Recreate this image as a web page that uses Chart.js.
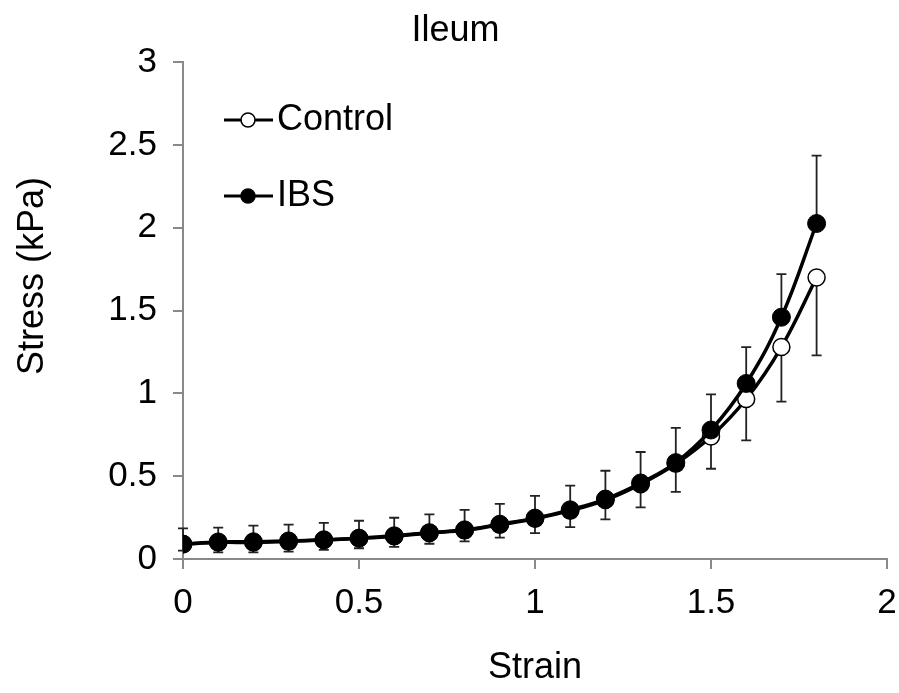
<!DOCTYPE html>
<html>
<head>
<meta charset="utf-8">
<script src="https://cdn.jsdelivr.net/npm/chart.js@4.4.1/dist/chart.umd.min.js"></script>
<style>
html,body{margin:0;padding:0;background:#fff;}
#wrap{width:899px;height:693px;}
</style>
</head>
<body>
<div id="wrap"><canvas id="c" width="899" height="693"></canvas></div>
<script>
const strain = [0, 0.1, 0.2, 0.3, 0.4, 0.5, 0.6, 0.7, 0.8, 0.9, 1.0, 1.1, 1.2, 1.3, 1.4, 1.5, 1.6, 1.7, 1.8];
const controlStress = [0.09, 0.10, 0.10, 0.105, 0.115, 0.125, 0.138, 0.157, 0.173, 0.207, 0.243, 0.292, 0.356, 0.452, 0.575, 0.74, 0.966, 1.28, 1.70];
const ibsStress = [0.09, 0.103, 0.104, 0.109, 0.116, 0.126, 0.14, 0.159, 0.176, 0.21, 0.247, 0.297, 0.362, 0.459, 0.582, 0.779, 1.06, 1.46, 2.026];
const ibsErrPlus = [0.095, 0.087, 0.097, 0.098, 0.102, 0.105, 0.109, 0.111, 0.121, 0.123, 0.134, 0.146, 0.171, 0.187, 0.21, 0.215, 0.22, 0.26, 0.41];
const controlErrMinus = [0.04, 0.06, 0.06, 0.06, 0.06, 0.06, 0.065, 0.065, 0.066, 0.078, 0.087, 0.10, 0.117, 0.14, 0.17, 0.195, 0.25, 0.33, 0.47];
const xTicks = [0, 0.5, 1, 1.5, 2];
const yTicks = [0, 0.5, 1, 1.5, 2, 2.5, 3];
const yTitle = 'Stress (kPa)';

const FONT = '"Liberation Sans", Arial, sans-serif';

const errorBars = {
  id: 'errorBars',
  beforeDatasetsDraw(chart) {
    const ctx = chart.ctx, xs = chart.scales.x, ys = chart.scales.y;
    ctx.save();
    ctx.strokeStyle = '#222';
    ctx.lineWidth = 1.8;
    const cap = 5;
    const bar = (x, y0, y1) => {
      const px = xs.getPixelForValue(x);
      const p0 = ys.getPixelForValue(y0), p1 = ys.getPixelForValue(y1);
      ctx.beginPath();
      ctx.moveTo(px, p0); ctx.lineTo(px, p1);
      ctx.moveTo(px - cap, p1); ctx.lineTo(px + cap, p1);
      ctx.stroke();
    };
    strain.forEach((s, i) => {
      bar(s, controlStress[i], controlStress[i] - controlErrMinus[i]);
      bar(s, ibsStress[i], ibsStress[i] + ibsErrPlus[i]);
    });
    ctx.restore();
  }
};

const customLegend = {
  id: 'customLegend',
  afterDraw(chart) {
    const ctx = chart.ctx;
    ctx.save();
    const items = [
      {label: chart.data.datasets[0].label, fill: '#fff', y: 120},
      {label: chart.data.datasets[1].label, fill: '#000', y: 196}
    ];
    items.forEach(it => {
      ctx.strokeStyle = '#000';
      ctx.lineWidth = 3;
      ctx.beginPath();
      ctx.moveTo(224, it.y); ctx.lineTo(273, it.y);
      ctx.stroke();
      ctx.beginPath();
      ctx.arc(248, it.y, 7, 0, Math.PI * 2);
      ctx.fillStyle = it.fill;
      ctx.fill();
      ctx.lineWidth = 1.5;
      ctx.stroke();
      ctx.fillStyle = '#000';
      ctx.font = '36px ' + FONT;
      ctx.textBaseline = 'middle';
      ctx.textAlign = 'left';
      ctx.fillText(it.label, 277, it.y);
    });
    // y-axis title
    ctx.translate(33, 276);
    ctx.rotate(-Math.PI / 2);
    ctx.fillStyle = '#000';
    ctx.font = '36px ' + FONT;
    ctx.textAlign = 'center';
    ctx.textBaseline = 'middle';
    ctx.fillText(yTitle, 0, 0);
    ctx.restore();
  }
};

const mk = (ys) => strain.map((s, i) => ({x: s, y: ys[i]}));

new Chart(document.getElementById('c'), {
  type: 'line',
  data: {
    datasets: [
      {
        label: 'Control',
        data: mk(controlStress),
        borderColor: '#000',
        borderWidth: 3.5,
        backgroundColor: '#fff',
        pointBackgroundColor: '#fff',
        pointBorderColor: '#000',
        pointBorderWidth: 1.5,
        pointRadius: 8.5,
        tension: 0.4,
        order: 2
      },
      {
        label: 'IBS',
        data: mk(ibsStress),
        borderColor: '#000',
        borderWidth: 3.5,
        backgroundColor: '#000',
        pointBackgroundColor: '#000',
        pointBorderColor: '#000',
        pointBorderWidth: 1,
        pointRadius: 9,
        tension: 0.4,
        order: 1
      }
    ]
  },
  options: {
    responsive: false,
    animation: false,
    layout: {padding: {left: 12, right: 0, top: 0, bottom: 0}},
    plugins: {
      legend: {display: false},
      tooltip: {enabled: false},
      title: {
        display: true,
        text: 'Ileum',
        color: '#000',
        font: {family: FONT, size: 36, weight: 'normal', lineHeight: 1.2},
        padding: {top: 9, bottom: 10}
      }
    },
    scales: {
      x: {
        type: 'linear',
        min: 0, max: 2,
        afterBuildTicks(scale) { scale.ticks = xTicks.map(v => ({value: v})); },
        afterFit(scale) { scale.height = 134; scale.paddingRight = 12; scale.paddingLeft = 0; },
        grid: {drawOnChartArea: false, drawTicks: true, tickLength: 10, color: '#898989', lineWidth: 2},
        border: {display: true, color: '#898989', width: 2},
        ticks: {color: '#000', font: {family: FONT, size: 35}, padding: 13, maxRotation: 0, callback: v => String(v)},
        title: {display: true, text: 'Strain', color: '#000', font: {family: FONT, size: 36}, padding: {top: 0, bottom: 3}}
      },
      y: {
        type: 'linear',
        min: 0, max: 3,
        afterBuildTicks(scale) { scale.ticks = yTicks.map(v => ({value: v})); },
        afterFit(scale) { scale.width = 171; },
        grid: {drawOnChartArea: false, drawTicks: true, tickLength: 10, color: '#898989', lineWidth: 2},
        border: {display: true, color: '#898989', width: 2},
        ticks: {color: '#000', font: {family: FONT, size: 35}, padding: 16, callback: v => String(v)}
      }
    }
  },
  plugins: [errorBars, customLegend]
});
</script>
</body>
</html>
